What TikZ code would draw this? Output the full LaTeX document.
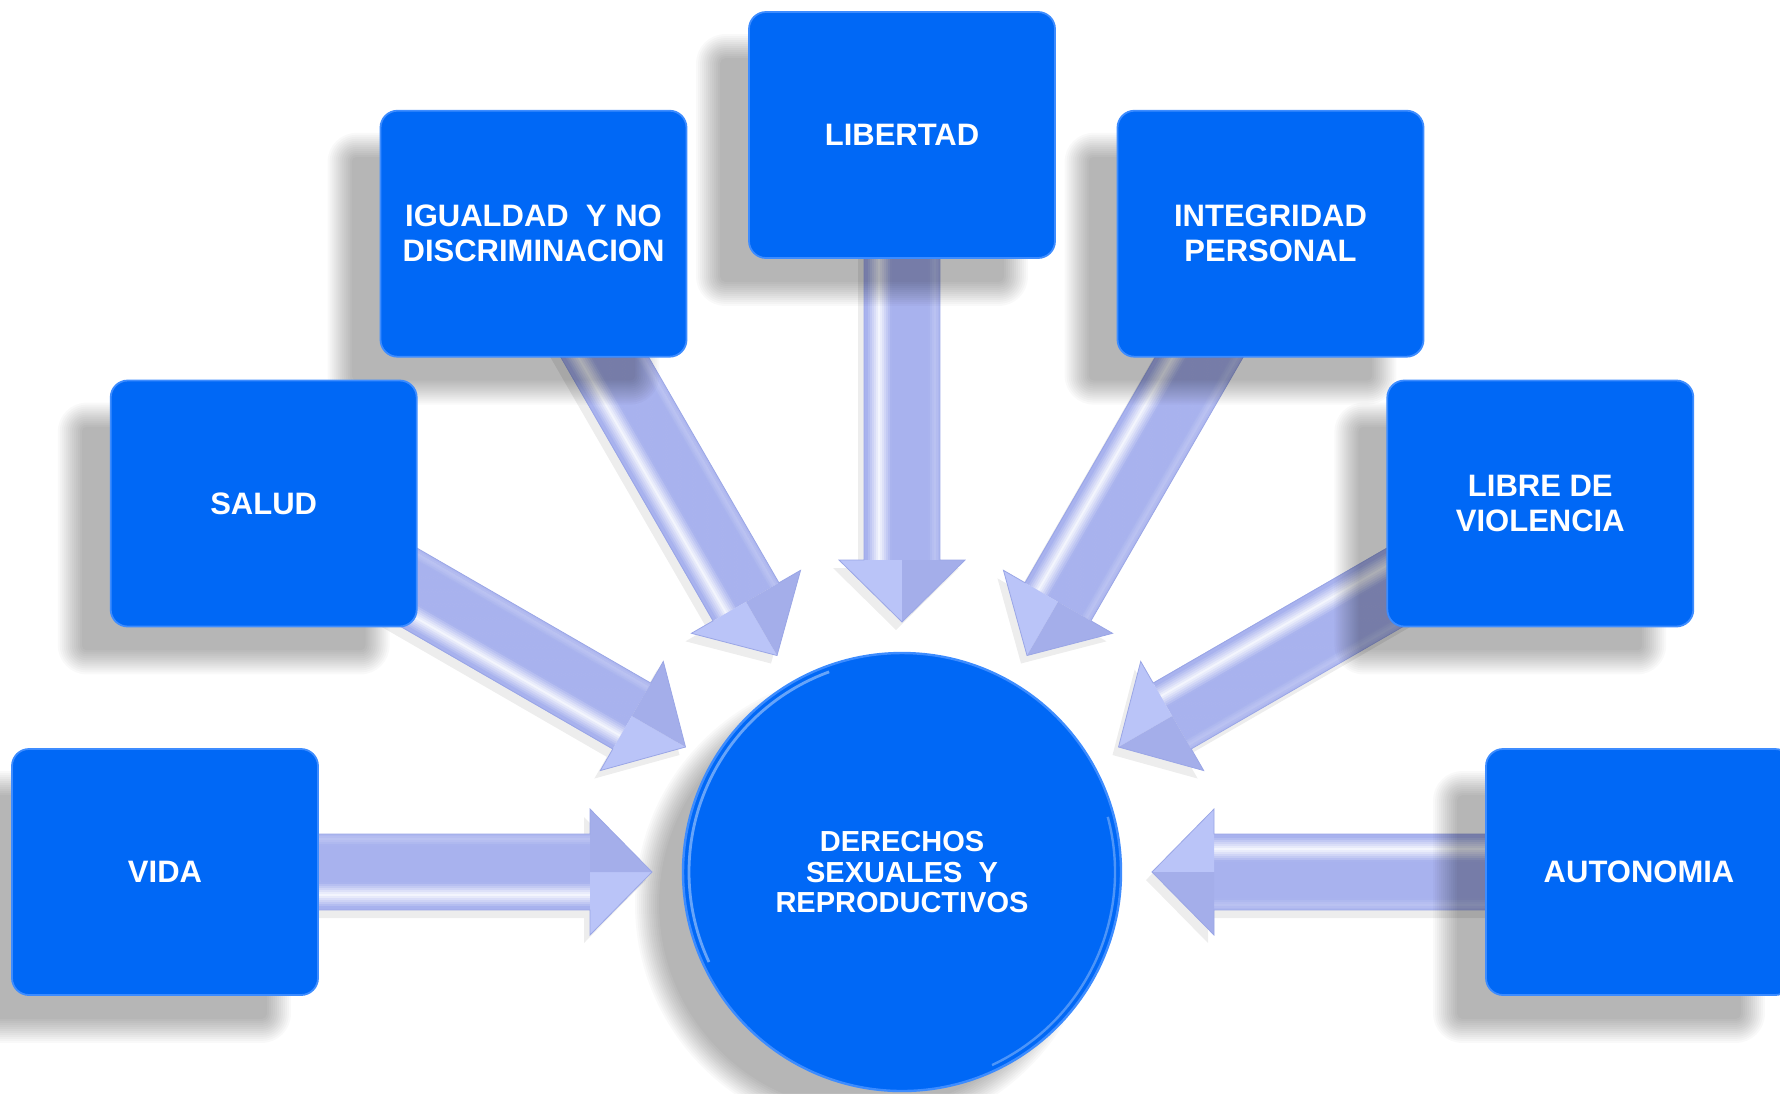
\documentclass[tikz,border=0pt]{standalone}
\usepackage{fontspec}
\setmainfont{Liberation Sans}
\definecolor{boxblue}{HTML}{0068F6}
\definecolor{boxedge}{HTML}{3D8CFF}
\definecolor{shaftbase}{HTML}{A8B2EE}
\definecolor{arHl}{HTML}{BAC4F8}
\definecolor{arHd}{HTML}{A4AEEA}
\definecolor{arOut}{HTML}{9AA6E6}
\pgfdeclarelayer{back}
\pgfdeclarelayer{mid}
\pgfdeclarelayer{shad}
\pgfsetlayers{back,mid,shad,main}
\newcommand\softshadow[1]{%
  \foreach \i in {-12,-10,...,12}{%
    \pgfmathsetmacro\rr{max(1,8.5+0.5*\i)}%
    \fill[black, fill opacity=0.025, rounded corners=\rr pt]
      ([shift={(-40-\i,35-\i)}]#1.north west) rectangle ([shift={(-40+\i,35+\i)}]#1.south east);
  }}
\begin{document}
\begin{tikzpicture}[x=0.5pt,y=-0.5pt,
  box/.style={rectangle, rounded corners=8.5pt, minimum width=153pt, minimum height=123pt,
    inner sep=0pt, fill=boxblue, draw=boxedge, line width=0.9pt, text=white, align=center,
    font=\bfseries\fontsize{15.5}{17.5}\selectfont},
  hub/.style={circle, minimum size=219pt, inner sep=0pt, fill=boxblue, draw=boxedge,
    line width=1.2pt, text=white, align=center,
    font=\bfseries\fontsize{14.5}{15.3}\selectfont},
  arrowshadow/.style={fill=black, fill opacity=0.07},
  arrowoutline/.style={draw=arOut, line width=0.4pt}]
\useasboundingbox (0,0) rectangle (1780,1093);

% central circle
\node[hub] (c) at (902,872) {DERECHOS\\SEXUALES\ \ Y\\REPRODUCTIVOS};
\begin{scope}[shift={(c.center)}, x=0.5pt, y=0.5pt]
  \draw[white, opacity=0.40, line width=1.4pt] (110:213) arc[start angle=110, end angle=205, radius=213];
  \draw[white, opacity=0.30, line width=1.2pt] (-65:213) arc[start angle=-65, end angle=15, radius=213];
\end{scope}

% outer boxes
\node[box] (vida)  at (165,872)    {VIDA};
\node[box] (salud) at (263.7,503.5) {SALUD};
\node[box] (igual) at (533.5,233.7) {IGUALDAD\ \ Y NO\\DISCRIMINACION};
\node[box] (lib)   at (902,135)    {LIBERTAD};
\node[box] (integ) at (1270.5,233.7) {INTEGRIDAD\\PERSONAL};
\node[box] (viol)  at (1540.3,503.5) {LIBRE DE\\VIOLENCIA};
\node[box] (auto)  at (1639,872)   {AUTONOMIA};

% background and hub shadow
\begin{pgfonlayer}{back}
  \fill[white] (0,0) rectangle (1780,1093);
  \foreach \i in {-12,-10,...,12}{
    \fill[black, fill opacity=0.025] ([shift={(-36,32)}]c.center) circle[radius=219+\i];
  }
\end{pgfonlayer}

% block arrows (local frame: +x points from the hub towards the box)
\begin{pgfonlayer}{mid}
\foreach \a in {180,150,120,90,60,30,0}{
  \begin{scope}[shift={(896,880)}, rotate=\a, x=0.5pt, y=0.5pt]
    \fill[arrowshadow] (690,38) -- (312,38) -- (312,63) -- (250,0) -- (312,-63) -- (312,-38) -- (690,-38) -- cycle;
  \end{scope}
  \begin{scope}[shift={(c.center)}, rotate=\a, x=0.5pt, y=0.5pt]
    \foreach \yy in {-38,-36,...,36}{
      \pgfmathsetmacro\t{(\yy+39)/76}
      \pgfmathsetmacro\h{max(0,1-abs(\t-0.80)/0.16)+0.25*max(0,1-abs(\t-0.07)/0.08)}
      \pgfmathsetmacro\w{100-88*min(1,\h)}
      \fill[shaftbase!\w!white] (312,\yy) rectangle (690,\yy+2.4);
    }
    \fill[arHl] (312,0) -- (312,63) -- (250,0) -- cycle;
    \fill[arHd] (312,0) -- (312,-63) -- (250,0) -- cycle;
    \path[arrowoutline] (690,38) -- (312,38) -- (312,63) -- (250,0) -- (312,-63) -- (312,-38) -- (690,-38);
  \end{scope}
}
\end{pgfonlayer}

% box shadows (fall over the arrow tails)
\begin{pgfonlayer}{shad}
  \softshadow{vida}
  \softshadow{salud}
  \softshadow{igual}
  \softshadow{lib}
  \softshadow{integ}
  \softshadow{viol}
  \softshadow{auto}
\end{pgfonlayer}
\end{tikzpicture}
\end{document}
